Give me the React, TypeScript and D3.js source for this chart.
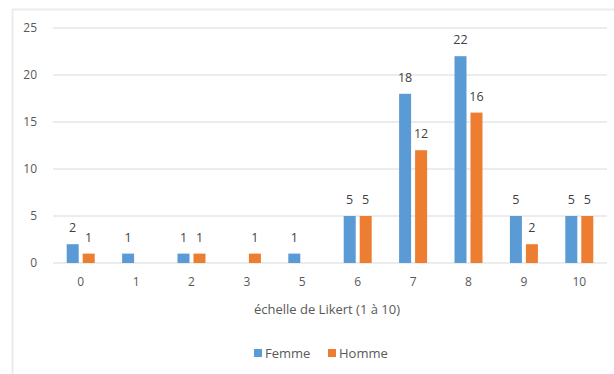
import React from "react";
import * as d3 from "d3";

const categories = ["0", "1", "2", "3", "5", "6", "7", "8", "9", "10"];
const femme = [2, 1, 1, 0, 1, 5, 18, 22, 5, 5];
const homme = [1, 0, 1, 1, 0, 5, 12, 16, 2, 5];
const yTicks = [0, 5, 10, 15, 20, 25];
const seriesNames = ["Femme", "Homme"];
const colors = ["#5B9BD5", "#ED7D31"];

const W = 614;
const H = 374;
const plot = { left: 53, right: 607, top: 28, bottom: 263 };
const font = "'Open Sans', 'DejaVu Sans', sans-serif";

export default function App() {
  const x = d3.scaleBand<string>().domain(categories).range([plot.left, plot.right]);
  const y = d3.scaleLinear().domain([0, 25]).range([plot.bottom, plot.top]);
  const barW = 12;
  const gap = 4;
  const series = [femme, homme];

  return (
    <svg
      width={W}
      height={H}
      style={{ position: "absolute", left: 0, top: 0, background: "#fff" }}
      fontFamily={font}
    >
      <rect x={0} y={0} width={W} height={H} fill="#fff" />
      {/* frame */}
      <line x1={12.5} x2={12.5} y1={9} y2={H} stroke="#ececec" strokeWidth={2} />
      <line x1={12} x2={W} y1={9.5} y2={9.5} stroke="#ececec" strokeWidth={2} />
      {/* gridlines */}
      {yTicks.map((t) => (
        <line
          key={t}
          x1={plot.left}
          x2={plot.right}
          y1={y(t)}
          y2={y(t)}
          stroke="#d9d9d9"
          strokeWidth={1}
        />
      ))}
      {yTicks.map((t) => (
        <text
          key={"l" + t}
          x={37}
          y={y(t)}
          dy="0.35em"
          textAnchor="end"
          fontSize={12}
          fill="#595959"
        >
          {t}
        </text>
      ))}
      {/* bars */}
      {series.map((vals, si) =>
        vals.map((v, i) => {
          const c = categories[i];
          const cx = (x(c) as number) + x.bandwidth() / 2;
          const bx = si === 0 ? cx - gap / 2 - barW : cx + gap / 2;
          if (v === 0) return null;
          return (
            <g key={si + "-" + i}>
              <rect
                x={bx}
                y={y(v)}
                width={barW}
                height={y(0) - y(v)}
                fill={colors[si]}
              />
              <text
                x={bx + barW / 2}
                y={y(v) - 12}
                textAnchor="middle"
                fontSize={12.5}
                fill="#404040"
              >
                {v}
              </text>
            </g>
          );
        })
      )}
      {/* x labels */}
      {categories.map((c) => (
        <text
          key={"x" + c}
          x={(x(c) as number) + x.bandwidth() / 2}
          y={282}
          dy="0.35em"
          textAnchor="middle"
          fontSize={12}
          fill="#595959"
        >
          {c}
        </text>
      ))}
      <text x={327} y={309} dy="0.35em" textAnchor="middle" fontSize={13} fill="#595959">
        échelle de Likert (1 à 10)
      </text>
      {/* legend */}
      {seriesNames.map((n, i) => {
        const lx = i === 0 ? 254 : 328;
        return (
          <g key={n}>
            <rect x={lx} y={349} width={8} height={8} fill={colors[i]} />
            <text x={lx + 11} y={353} dy="0.35em" fontSize={13} fill="#595959">
              {n}
            </text>
          </g>
        );
      })}
    </svg>
  );
}
